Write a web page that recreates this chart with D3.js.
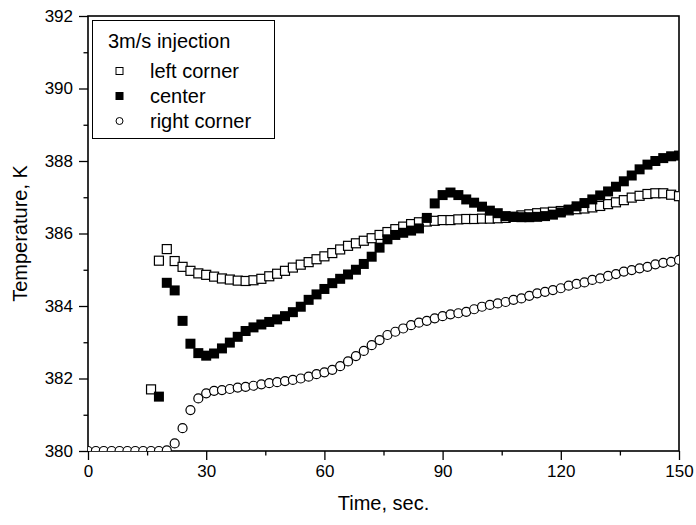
<!DOCTYPE html>
<html>
<head>
<meta charset="utf-8">
<script src="https://cdn.jsdelivr.net/npm/d3@7"></script>
<style>
  body { margin: 0; background: #fff; }
  text { font-family: "Liberation Sans", Arial, sans-serif; fill: #000; }
</style>
</head>
<body>
<div id="chart"></div>
<script>
/* Temperature vs time, 3 m/s injection */

const time = [0, 2, 4, 6, 8, 10, 12, 14, 16, 18, 20, 22, 24, 26, 28, 30, 32, 34, 36, 38,
  40, 42, 44, 46, 48, 50, 52, 54, 56, 58, 60, 62, 64, 66, 68, 70, 72, 74, 76, 78,
  80, 82, 84, 86, 88, 90, 92, 94, 96, 98, 100, 102, 104, 106, 108, 110, 112, 114, 116, 118,
  120, 122, 124, 126, 128, 130, 132, 134, 136, 138, 140, 142, 144, 146, 148, 150];

const leftCorner = [null, null, null, null, null, null, null, null, 381.70, 385.25,
  385.57, 385.24, 385.08, 384.97, 384.90, 384.86, 384.81, 384.76, 384.73, 384.70,
  384.69, 384.71, 384.75, 384.82, 384.89, 384.97, 385.06, 385.14, 385.21, 385.29,
  385.37, 385.46, 385.56, 385.66, 385.73, 385.80, 385.87, 385.96, 386.04, 386.12,
  386.19, 386.26, 386.31, 386.33, 386.35, 386.37, 386.37, 386.39, 386.40, 386.40,
  386.41, 386.41, 386.42, 386.43, 386.46, 386.50, 386.53, 386.56, 386.58, 386.60,
  386.62, 386.64, 386.67, 386.69, 386.72, 386.76, 386.81, 386.86, 386.92, 386.99,
  387.04, 387.09, 387.11, 387.11, 387.07, 387.03];

const center = [null, null, null, null, null, null, null, null, null, 381.50,
  384.64, 384.43, 383.59, 382.96, 382.70, 382.63, 382.69, 382.83, 382.99, 383.15,
  383.31, 383.41, 383.49, 383.56, 383.63, 383.72, 383.83, 383.98, 384.17, 384.32,
  384.47, 384.63, 384.75, 384.87, 385.00, 385.16, 385.36, 385.61, 385.84, 385.96,
  386.02, 386.08, 386.14, 386.43, 386.83, 387.06, 387.13, 387.06, 386.94, 386.85,
  386.74, 386.63, 386.56, 386.48, 386.46, 386.45, 386.45, 386.46, 386.48, 386.52,
  386.58, 386.66, 386.75, 386.84, 386.94, 387.05, 387.16, 387.29, 387.44, 387.60,
  387.77, 387.90, 388.00, 388.08, 388.13, 388.15];

const rightCorner = [380.00, 380.00, 380.00, 380.00, 380.00, 380.00, 380.00, 380.00, 380.00, 380.00,
  380.02, 380.21, 380.63, 381.13, 381.45, 381.59, 381.66, 381.68, 381.71, 381.75,
  381.77, 381.80, 381.84, 381.87, 381.90, 381.93, 381.96, 382.00, 382.05, 382.12,
  382.17, 382.24, 382.34, 382.47, 382.62, 382.76, 382.92, 383.06, 383.20, 383.29,
  383.38, 383.47, 383.54, 383.59, 383.66, 383.72, 383.77, 383.80, 383.84, 383.91,
  383.98, 384.03, 384.07, 384.11, 384.17, 384.21, 384.28, 384.35, 384.39, 384.44,
  384.49, 384.56, 384.61, 384.65, 384.72, 384.76, 384.83, 384.88, 384.95, 384.99,
  385.04, 385.08, 385.15, 385.19, 385.22, 385.27];

const seriesNames = ["left corner", "center", "right corner"];
const legendTitle = "3m/s injection";
const xTicks = [0, 30, 60, 90, 120, 150];
const xMinor = [15, 45, 75, 105, 135];
const yTicks = [380, 382, 384, 386, 388, 390, 392];
const yMinor = [381, 383, 385, 387, 389, 391];

/* size of the chart */
const width = 696,
      height = 525,
      margin = ({top: 16, right: 17, bottom: 74, left: 88});

let svg = d3.select("#chart")
            .append("svg")
            .attr("width", width)
            .attr("height", height)
            .attr("viewBox", [0, 0, width, height]);

let x = d3.scaleLinear()
          .domain([0, 150])
          .range([margin.left, width - margin.right]);

let y = d3.scaleLinear()
          .domain([380, 392])
          .range([height - margin.bottom, margin.top]);

/* axes: major ticks with labels, minor ticks without */
svg.append("g")
   .attr("transform", `translate(0, ${height - margin.bottom})`)
   .call(d3.axisBottom(x).tickValues(xTicks).tickSize(9).tickPadding(5))
   .call(g => g.select(".domain").remove())
   .call(g => g.selectAll("text").style("font-size", "17px").attr("dy", "0.71em"));

svg.append("g")
   .attr("transform", `translate(0, ${height - margin.bottom})`)
   .call(d3.axisBottom(x).tickValues(xMinor).tickSize(4.5).tickFormat(""))
   .call(g => g.select(".domain").remove());

svg.append("g")
   .attr("transform", `translate(${margin.left}, 0)`)
   .call(d3.axisLeft(y).tickValues(yTicks).tickSize(9).tickPadding(6))
   .call(g => g.select(".domain").remove())
   .call(g => g.selectAll("text").style("font-size", "17px"));

svg.append("g")
   .attr("transform", `translate(${margin.left}, 0)`)
   .call(d3.axisLeft(y).tickValues(yMinor).tickSize(4.5).tickFormat(""))
   .call(g => g.select(".domain").remove());

svg.selectAll(".tick line").attr("stroke", "#000").attr("stroke-width", 1.3);

/* frame */
svg.append("rect")
   .attr("x", x(0))
   .attr("y", y(392))
   .attr("width", x(150) - x(0))
   .attr("height", y(380) - y(392))
   .attr("fill", "none")
   .attr("stroke", "#000")
   .attr("stroke-width", 1.6);

/* axis titles */
svg.append("text")
   .attr("x", (x(0) + x(150)) / 2)
   .attr("y", 510)
   .attr("text-anchor", "middle")
   .style("font-size", "20px")
   .text("Time, sec.");

svg.append("text")
   .attr("transform", `translate(27, ${(y(380) + y(392)) / 2}) rotate(-90)`)
   .attr("text-anchor", "middle")
   .style("font-size", "20px")
   .text("Temperature, K");

/* markers */
svg.append("clipPath")
   .attr("id", "plot-clip")
   .append("rect")
   .attr("x", x(0))
   .attr("y", y(392))
   .attr("width", x(150) - x(0))
   .attr("height", y(380) - y(392));

let plot = svg.append("g").attr("clip-path", "url(#plot-clip)");

const pts = vals => time.map((t, i) => ({t: t, v: vals[i]})).filter(d => d.v != null);

plot.selectAll(".left")
    .data(pts(leftCorner))
    .join("rect")
    .attr("class", "left")
    .attr("x", d => x(d.t) - 4.5)
    .attr("y", d => y(d.v) - 4.5)
    .attr("width", 9)
    .attr("height", 9)
    .attr("fill", "#fff")
    .attr("stroke", "#000")
    .attr("stroke-width", 1.2);

plot.selectAll(".center")
    .data(pts(center))
    .join("rect")
    .attr("class", "center")
    .attr("x", d => x(d.t) - 5)
    .attr("y", d => y(d.v) - 5)
    .attr("width", 10)
    .attr("height", 10)
    .attr("fill", "#000");

plot.selectAll(".right")
    .data(pts(rightCorner))
    .join("circle")
    .attr("class", "right")
    .attr("cx", d => x(d.t))
    .attr("cy", d => y(d.v))
    .attr("r", 4.5)
    .attr("fill", "#fff")
    .attr("stroke", "#000")
    .attr("stroke-width", 1.2);

/* legend */
let legend = svg.append("g");

legend.append("rect")
      .attr("x", 92.5)
      .attr("y", 20.5)
      .attr("width", 182)
      .attr("height", 118)
      .attr("fill", "#fff")
      .attr("stroke", "#000")
      .attr("stroke-width", 1);

legend.append("text")
      .attr("x", 108)
      .attr("y", 48)
      .style("font-size", "20px")
      .text(legendTitle);

const rowY = [71, 96, 121];

legend.append("rect")
      .attr("x", 116).attr("y", rowY[0] - 3.5)
      .attr("width", 7).attr("height", 7)
      .attr("fill", "#fff").attr("stroke", "#000").attr("stroke-width", 1);

legend.append("rect")
      .attr("x", 115.5).attr("y", rowY[1] - 4)
      .attr("width", 8).attr("height", 8)
      .attr("fill", "#000");

legend.append("circle")
      .attr("cx", 119.5).attr("cy", rowY[2])
      .attr("r", 3.5)
      .attr("fill", "#fff").attr("stroke", "#000").attr("stroke-width", 1);

legend.selectAll(".lab")
      .data(seriesNames)
      .join("text")
      .attr("class", "lab")
      .attr("x", 150)
      .attr("y", (d, i) => rowY[i] + 7)
      .style("font-size", "20px")
      .text(d => d);
</script>
</body>
</html>
